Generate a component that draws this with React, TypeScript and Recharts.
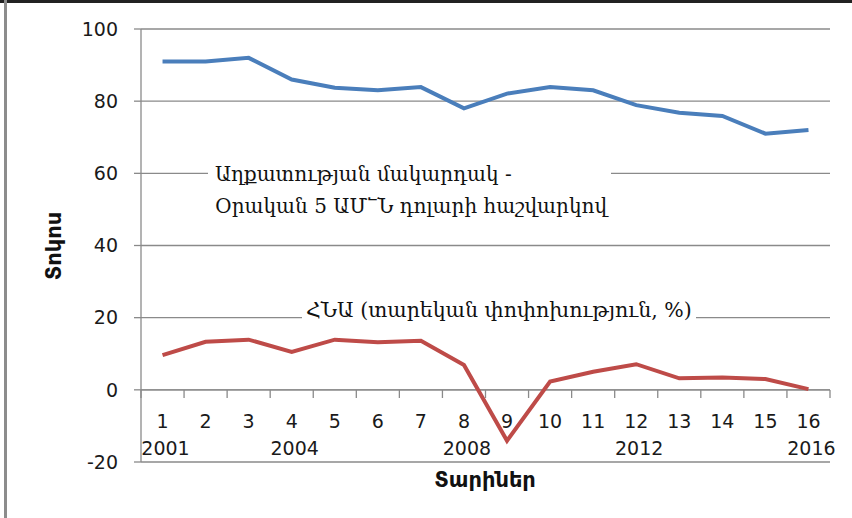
import React from 'react';
import {
  LineChart,
  Line,
  XAxis,
  YAxis,
  CartesianGrid,
  ReferenceLine,
} from 'recharts';

// years 2001-2016, numbered 1..16 on the axis
const categories = ['1', '2', '3', '4', '5', '6', '7', '8', '9', '10', '11', '12', '13', '14', '15', '16'];
const yearLabels = ['2001', '', '', '2004', '', '', '', '2008', '', '', '', '2012', '', '', '', '2016'];

// poverty rate, 5 USD/day
const povertyRate = [91, 91, 92, 86, 83.7, 83, 83.9, 78, 82.1, 83.9, 83, 78.9, 76.8, 75.9, 71, 72];
// GDP annual change, %
const gdpGrowth = [9.6, 13.3, 13.9, 10.5, 13.9, 13.2, 13.6, 6.9, -14.1, 2.3, 5.0, 7.1, 3.2, 3.4, 3.0, 0.2];

const yTicks = [-20, 0, 20, 40, 60, 80, 100];

const data = categories.map((c, i) => ({
  idx: c,
  year: yearLabels[i],
  poverty: povertyRate[i],
  gdp: gdpGrowth[i],
}));

const GRID = '#8a8a8a';
const TICK_FONT = '"DejaVu Sans", sans-serif';
const NOTE_FONT = '"DejaVu Serif", serif';

// labels sit below the zero line, tick marks drawn at band edges
const XTick = (props: any) => {
  const { x, y, payload, index } = props;
  const i = index ?? 0;
  const half = payload.offset || 21.5;
  const y0 = y - 72;
  const year = yearLabels[i];
  return (
    <g>
      <line x1={x - half} x2={x - half} y1={y0} y2={y0 + 8} stroke={GRID} strokeWidth={1.3} />
      {i === categories.length - 1 && (
        <line x1={x + half} x2={x + half} y1={y0} y2={y0 + 8} stroke={GRID} strokeWidth={1.3} />
      )}
      <text x={x} y={y - 41} textAnchor="middle" dominantBaseline="central"
        fontFamily={TICK_FONT} fontSize={19} fill="#1a1a1a">
        {payload.value}
      </text>
      {year && (
        <text x={x + 3} y={y - 14} textAnchor="middle" dominantBaseline="central"
          fontFamily={TICK_FONT} fontSize={19} fill="#1a1a1a">
          {year}
        </text>
      )}
    </g>
  );
};

export default function App() {
  return (
    <div style={{ position: 'absolute', left: 0, top: 0, width: 852, height: 518, background: '#fff' }}>
      <div style={{ position: 'absolute', left: 0, top: 0, width: 852, height: 3, background: '#222' }} />
      <div style={{ position: 'absolute', left: 4, top: 0, width: 3, height: 518, background: '#8c8c8c' }} />

      <LineChart width={852} height={518} data={data}
        margin={{ top: 29, right: 22, bottom: 0, left: 0 }}>
        <CartesianGrid vertical={false} stroke={GRID} strokeWidth={1.3} />
        <XAxis dataKey="idx" scale="band" height={56} tickLine={false} axisLine={false}
          tickSize={0} tickMargin={0} interval={0} tick={<XTick />} />
        <YAxis domain={[-20, 100]} ticks={yTicks} width={141} tickSize={7} tickMargin={16}
          stroke={GRID} strokeWidth={1.3}
          tick={{ fontFamily: TICK_FONT, fontSize: 19, fill: '#1a1a1a' }} />
        <ReferenceLine y={0} stroke={GRID} strokeWidth={1.3} />
        <Line type="linear" dataKey="poverty" stroke="#4a7ebb" strokeWidth={4}
          dot={false} isAnimationActive={false} />
        <Line type="linear" dataKey="gdp" stroke="#be4b48" strokeWidth={4}
          dot={false} isAnimationActive={false} />
      </LineChart>

      <div style={{ position: 'absolute', left: 208, top: 158, background: '#fff', padding: '0 4px 0 7px',
        fontFamily: NOTE_FONT, fontSize: 20, lineHeight: '32px', color: '#111', whiteSpace: 'nowrap' }}>
        <div>Աղքատության մակարդակ -</div>
        <div>Օրական 5 ԱՄ՟Ն դոլարի հաշվարկով</div>
      </div>

      <div style={{ position: 'absolute', left: 302, top: 296, background: '#fff', padding: '0 4px',
        fontFamily: NOTE_FONT, fontSize: 20.5, lineHeight: '28px', color: '#111', whiteSpace: 'nowrap' }}>
        ՀՆԱ (տարեկան փոփոխություն, %)
      </div>

      <div style={{ position: 'absolute', left: 54, top: 246, transform: 'translate(-50%, -50%) rotate(-90deg)',
        fontFamily: TICK_FONT, fontWeight: 'bold', fontSize: 21, color: '#111', whiteSpace: 'nowrap' }}>
        Տոկոս
      </div>
      <div style={{ position: 'absolute', left: 485, top: 480, transform: 'translate(-50%, -50%)',
        fontFamily: TICK_FONT, fontWeight: 'bold', fontSize: 21, color: '#111', whiteSpace: 'nowrap' }}>
        Տարիներ
      </div>
    </div>
  );
}
